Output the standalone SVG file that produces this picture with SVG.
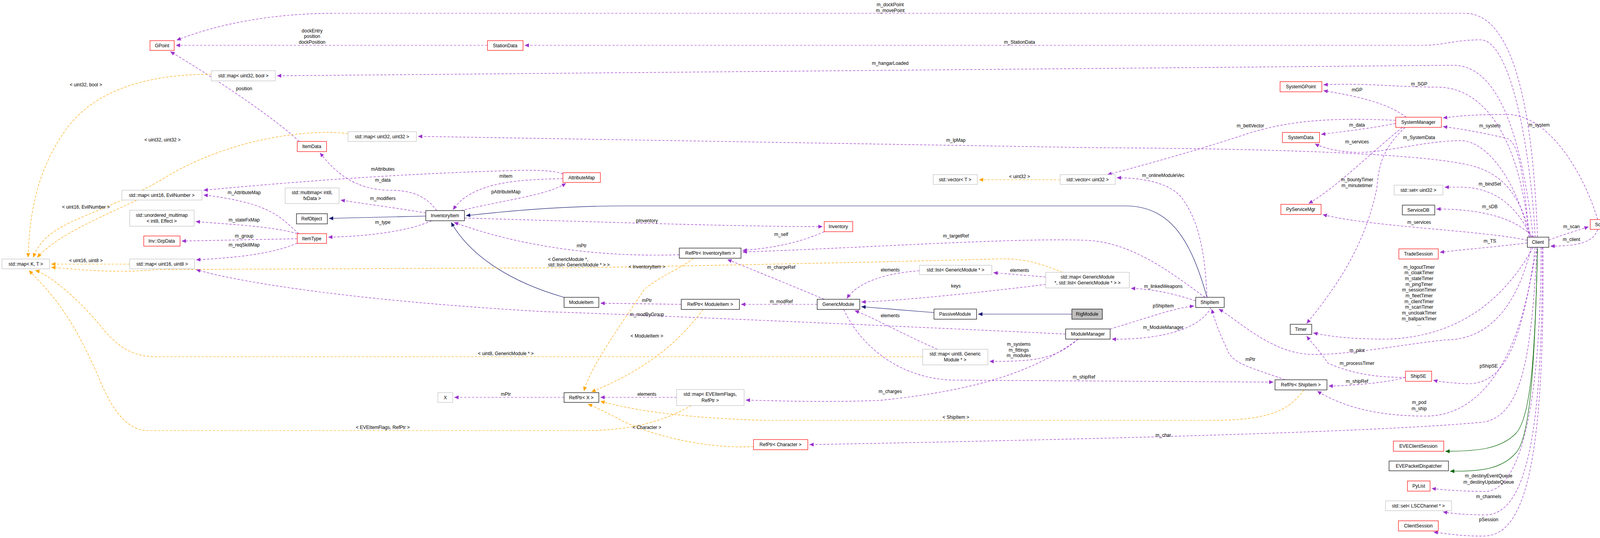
<svg xmlns="http://www.w3.org/2000/svg" width="4129" height="1377" viewBox="0 0 4129 1377">
<style>
text{font-family:"Liberation Sans Narrow","Liberation Sans",Arial,sans-serif;font-size:12px;text-anchor:middle;fill:#000}
.n rect{fill:#fff;stroke-width:1.2}
.r rect{stroke:#ff0000}
.k rect{stroke:#000}
.y rect{stroke:#bfbfbf}
.u{fill:none;stroke:#9a32cd;stroke-width:1.2;stroke-dasharray:6,4;marker-end:url(#mu)}
.t{fill:none;stroke:#ffa500;stroke-width:1.2;stroke-dasharray:6,4;marker-end:url(#mt)}
.i{fill:none;stroke:#191970;stroke-width:1.2;marker-end:url(#mi)}
.g{fill:none;stroke:#006400;stroke-width:1.2;marker-end:url(#mg)}
</style>
<defs>
<marker id="mu" markerUnits="userSpaceOnUse" markerWidth="12" markerHeight="10" refX="11" refY="5" orient="auto"><path d="M0,0 L11,5 L0,10 z" fill="#9a32cd"/></marker>
<marker id="mt" markerUnits="userSpaceOnUse" markerWidth="12" markerHeight="10" refX="11" refY="5" orient="auto"><path d="M0,0 L11,5 L0,10 z" fill="#ffa500"/></marker>
<marker id="mi" markerUnits="userSpaceOnUse" markerWidth="12" markerHeight="10" refX="11" refY="5" orient="auto"><path d="M0,0 L11,5 L0,10 z" fill="#191970"/></marker>
<marker id="mg" markerUnits="userSpaceOnUse" markerWidth="12" markerHeight="10" refX="11" refY="5" orient="auto"><path d="M0,0 L11,5 L0,10 z" fill="#006400"/></marker>
</defs>
<rect width="4129" height="1377" fill="#fff"/>
<g id="edges">
<path class="u" d="M3936,607 C3925,300 3880,34 3750,34 L860,34 C700,34 560,60 452,103"/>
<path class="u" d="M1248,116 L450,116"/>
<path class="u" d="M3930,607 C3920,400 3870,102 3790,102 C3720,102 3700,116 3640,116 L1343,116"/>
<path class="u" d="M766,362 C700,300 550,200 436,132"/>
<path class="u" d="M3925,607 C3890,300 3820,167 3720,167 L709,194"/>
<path class="u" d="M3920,607 C3890,500 3850,440 3750,420 C3600,390 3200,380 2800,378 L1070,349"/>
<path class="u" d="M1118,539 C1090,500 1050,487 1000,487 C900,487 850,430 819,391"/>
<path class="u" d="M1441,445 C1420,437 1380,434 1300,437 C1000,445 700,470 521,487"/>
<path class="u" d="M1441,457 C1350,460 1210,460 1160,537"/>
<path class="u" d="M1180,539 C1300,510 1400,500 1449,469"/>
<path class="u" d="M765,598 C720,560 700,520 521,499"/>
<path class="u" d="M1090,545 C1000,530 920,520 872,512"/>
<path class="u" d="M761,598 C700,580 600,575 501,567"/>
<path class="u" d="M1105,565 C1050,590 950,605 840,607"/>
<path class="u" d="M761,611 L465,617"/>
<path class="u" d="M761,622 C700,650 600,660 502,665"/>
<path class="i" d="M1090,553 L842,559"/>
<path class="u" d="M1189,558 C1600,570 1900,580 2106,580"/>
<path class="u" d="M2110,593 C2050,620 1980,635 1901,641"/>
<path class="u" d="M1739,652 C1500,660 1300,620 1162,569"/>
<path class="u" d="M3085,761 C3000,700 2900,620 2780,615 C2600,608 2200,635 1901,645"/>
<path class="u" d="M2110,766 C2000,720 1950,700 1862,664"/>
<path class="i" d="M3090,761 C3050,620 3000,527 2880,527 L1600,527 C1450,527 1300,540 1193,552"/>
<path class="i" d="M1444,761 C1300,720 1200,650 1155,569"/>
<path class="u" d="M1744,779 L1537,776"/>
<path class="u" d="M2092,779 L1897,779"/>
<path class="i" d="M2391,800 L2205,785"/>
<path class="i" d="M2744,804 L2504,804"/>
<path class="u" d="M2354,693 C2250,700 2190,730 2168,764"/>
<path class="u" d="M2677,709 L2543,698"/>
<path class="u" d="M2677,728 C2500,750 2300,770 2205,773"/>
<path class="u" d="M3061,770 C3000,750 2950,740 2895,738"/>
<path class="u" d="M2400,894 C2300,850 2230,810 2188,795"/>
<path class="u" d="M2760,868 C2700,920 2650,925 2533,925"/>
<path class="u" d="M2728,855 C2200,830 1500,800 1400,798 C900,770 600,720 502,690"/>
<path class="u" d="M2842,842 C2950,810 3000,790 3057,783"/>
<path class="u" d="M3100,787 C3080,830 3000,870 2846,868"/>
<path class="u" d="M2760,868 C2650,950 2500,1000 2250,1025 C2100,1030 2000,1026 1909,1024"/>
<path class="u" d="M2160,792 C2200,880 2300,973 2450,973 L3260,978"/>
<path class="u" d="M3290,972 C3200,940 3150,930 3140,890 C3120,850 3110,820 3102,791"/>
<path class="u" d="M3598,966 C3550,980 3450,988 3401,988"/>
<path class="u" d="M3598,966 C3500,966 3450,950 3400,930 C3380,900 3360,880 3345,860"/>
<path class="u" d="M3925,633 C3860,750 3750,862 3550,868 C3450,868 3400,860 3362,852"/>
<path class="u" d="M3920,633 C3880,800 3800,870 3700,870 C3600,880 3450,910 3350,907 C3250,900 3170,820 3120,791"/>
<path class="u" d="M3935,633 C3900,800 3880,990 3750,982 C3720,980 3690,978 3669,973"/>
<path class="u" d="M3930,633 C3900,900 3800,1065 3650,1065 C3500,1065 3420,1030 3372,1001"/>
<path class="u" d="M3935,633 C3920,900 3900,1060 3800,1080 C3500,1110 2500,1130 2072,1138"/>
<path class="g" d="M3936,637 C3930,900 3920,1070 3880,1110 C3840,1150 3780,1155 3700,1155"/>
<path class="g" d="M3936,637 C3930,900 3920,1120 3880,1160 C3840,1205 3780,1206 3712,1206"/>
<path class="u" d="M3945,633 C3945,1000 3900,1260 3800,1258 C3750,1257 3700,1255 3665,1250"/>
<path class="u" d="M3948,633 C3950,1100 3910,1320 3800,1318 C3750,1317 3720,1315 3694,1310"/>
<path class="u" d="M3950,633 C3955,1200 3900,1370 3800,1372 C3740,1373 3700,1365 3670,1362"/>
<path class="u" d="M3965,615 C4000,600 4040,590 4067,580"/>
<path class="u" d="M4090,587 C4080,620 4040,630 3969,630"/>
<path class="u" d="M4090,562 C4050,430 3960,295 3860,293 C3780,293 3740,296 3694,302"/>
<path class="u" d="M3915,607 C3900,450 3890,370 3860,355 C3800,340 3740,330 3694,324"/>
<path class="u" d="M3915,607 C3890,350 3800,224 3680,223 C3550,222 3500,212 3388,217"/>
<path class="u" d="M3600,300 C3560,270 3500,250 3388,232"/>
<path class="u" d="M3573,316 C3500,330 3450,335 3382,344"/>
<path class="u" d="M3573,308 C3400,300 3300,310 3200,340 C3050,390 2900,430 2835,447"/>
<path class="u" d="M3590,326 C3500,400 3420,480 3350,521"/>
<path class="u" d="M3597,326 C3540,380 3530,420 3525,480 C3500,600 3450,700 3345,828"/>
<path class="u" d="M3915,607 C3880,450 3800,360 3740,360 C3650,360 3550,390 3480,390 C3420,390 3380,375 3366,368"/>
<path class="u" d="M3090,761 C3085,650 3070,560 3020,500 C2980,460 2900,455 2859,455"/>
<path class="u" d="M3920,607 C3880,520 3820,480 3740,479 L3698,479"/>
<path class="u" d="M3925,607 C3880,560 3800,535 3677,535"/>
<path class="u" d="M3910,615 C3800,590 3500,580 3386,549"/>
<path class="u" d="M3910,622 C3800,635 3730,640 3686,646"/>
<path class="u" d="M1444,1017 L1163,1017"/>
<path class="u" d="M1732,1017 L1537,1017"/>
<path class="t" d="M541,190 C400,190 250,220 170,330 C90,440 75,560 72,659"/>
<path class="t" d="M891,342 C800,330 600,350 430,450 C250,560 120,560 85,659"/>
<path class="t" d="M350,512 C250,560 150,600 95,659"/>
<path class="t" d="M332,676 L131,676"/>
<path class="t" d="M2720,697 C2650,670 2620,660 2540,663 C2300,670 1800,680 1500,685 L400,690 C300,700 200,690 131,684"/>
<path class="t" d="M2362,913 L400,913 C330,913 300,880 270,850 C200,760 120,700 90,692"/>
<path class="t" d="M1770,1038 C1730,1060 1650,1102 1500,1102 L380,1102 C330,1102 290,1060 250,960 C180,800 130,750 74,692"/>
<path class="t" d="M2714,460 L2506,460"/>
<path class="t" d="M1775,661 C1740,690 1700,700 1650,740 C1590,830 1510,940 1495,1001"/>
<path class="t" d="M1800,792 C1720,900 1620,960 1514,1003"/>
<path class="t" d="M3338,998 C3300,1050 3250,1076 3100,1076 L1960,1076 C1750,1070 1620,1050 1537,1027"/>
<path class="t" d="M1929,1143 C1800,1150 1650,1110 1580,1070 C1540,1050 1520,1040 1505,1034"/>
<text x="2279" y="16">m_dockPoint</text><text x="2279" y="31">m_movePoint</text>
<text x="799" y="83">dockEntry</text><text x="799" y="97">position</text><text x="799" y="112">dockPosition</text>
<text x="2610" y="112">m_StationData</text>
<text x="2279" y="166">m_hangarLoaded</text>
<text x="625" y="231">position</text>
<text x="220" y="221">&lt; uint32, bool &gt;</text>
<text x="416" y="362">&lt; uint32, uint32 &gt;</text>
<text x="2447" y="363">m_lpMap</text>
<text x="980" y="437">mAttributes</text>
<text x="980" y="465">m_data</text>
<text x="1295" y="455">mItem</text>
<text x="1295" y="495">pAttributeMap</text>
<text x="625" y="497">m_AttributeMap</text>
<text x="980" y="512">m_modifiers</text>
<text x="220" y="534">&lt; uint16, EvilNumber &gt;</text>
<text x="625" y="567">m_stateFxMap</text>
<text x="980" y="573">m_type</text>
<text x="625" y="608">m_group</text>
<text x="625" y="631">m_reqSkillMap</text>
<text x="220" y="671">&lt; uint16, uint8 &gt;</text>
<text x="2610" y="456">&lt; uint32 &gt;</text>
<text x="1656" y="569">pInventory</text>
<text x="2000" y="604">m_self</text>
<text x="2447" y="608">m_targetRef</text>
<text x="1489" y="633">mPtr</text>
<text x="1403" y="668" style="text-anchor:start">&lt; GenericModule *,</text>
<text x="1403" y="682" style="text-anchor:start">std::list&lt; GenericModule * &gt; &gt;</text>
<text x="1656" y="687">&lt; InventoryItem &gt;</text>
<text x="2000" y="688">m_chargeRef</text>
<text x="2279" y="695">elements</text>
<text x="2610" y="696">elements</text>
<text x="2447" y="736">keys</text>
<text x="1656" y="773">mPtr</text>
<text x="2000" y="776">m_modRef</text>
<text x="1656" y="809">m_modByGroup</text>
<text x="2279" y="812">elements</text>
<text x="1656" y="864">&lt; ModuleItem &gt;</text>
<text x="2608" y="885">m_systems</text><text x="2608" y="900">m_fittings</text><text x="2608" y="914">m_modules</text>
<text x="1295" y="909">&lt; uint8, GenericModule * &gt;</text>
<text x="2775" y="969">m_shipRef</text>
<text x="2279" y="1006">m_charges</text>
<text x="1656" y="1013">elements</text>
<text x="1295" y="1013">mPtr</text>
<text x="2447" y="1072">&lt; ShipItem &gt;</text>
<text x="980" y="1098">&lt; EVEItemFlags, RefPtr &gt;</text>
<text x="1656" y="1098">&lt; Character &gt;</text>
<text x="2978" y="1118">m_char</text>
<text x="3633" y="219">m_SGP</text>
<text x="3474" y="234">mGP</text>
<text x="3201" y="326">m_beltVector</text>
<text x="3474" y="324">m_data</text>
<text x="3814" y="326">m_system</text>
<text x="3940" y="324">m_system</text>
<text x="3474" y="367">m_services</text>
<text x="3633" y="356">m_SystemData</text>
<text x="2978" y="453">m_onlineModuleVec</text>
<text x="3474" y="464">m_bountyTimer</text><text x="3474" y="479">m_minutetimer</text>
<text x="3814" y="475">m_bindSet</text>
<text x="3814" y="533">m_sDB</text>
<text x="3633" y="573">m_services</text>
<text x="4023" y="584">m_scan</text>
<text x="4023" y="617">m_client</text>
<text x="3814" y="621">m_TS</text>
<text x="3633" y="688">m_logoutTimer</text><text x="3633" y="702">m_cloakTimer</text><text x="3633" y="717">m_stateTimer</text><text x="3633" y="732">m_pingTimer</text><text x="3633" y="746">m_sessionTimer</text><text x="3633" y="761">m_fleetTimer</text><text x="3633" y="776">m_clientTimer</text><text x="3633" y="790">m_scanTimer</text><text x="3633" y="805">m_uncloakTimer</text><text x="3633" y="820">m_ballparkTimer</text><text x="3633" y="834">...</text>
<text x="2978" y="737">m_linkedWeapons</text>
<text x="2978" y="787">pShipItem</text>
<text x="2978" y="842">m_ModuleManager</text>
<text x="3474" y="901">m_pilot</text>
<text x="3201" y="924">mPtr</text>
<text x="3474" y="934">m_processTimer</text>
<text x="3811" y="941">pShipSE</text>
<text x="3474" y="980">m_shipRef</text>
<text x="3633" y="1034">m_pod</text><text x="3633" y="1050">m_ship</text>
<text x="3811" y="1222">m_destinyEventQueue</text><text x="3811" y="1238">m_destinyUpdateQueue</text>
<text x="3811" y="1275">m_channels</text>
<text x="3811" y="1334">pSession</text>
</g>
<g id="GPoint" class="n r"><rect x="384" y="104" width="62" height="25"/><text x="415" y="121">GPoint</text></g>
<g id="StationData" class="n r"><rect x="1248" y="104" width="91" height="25"/><text x="1293" y="121">StationData</text></g>
<g id="MapU32Bool" class="n y"><rect x="541" y="181" width="164" height="26"/><text x="623" y="198">std::map&lt; uint32, bool &gt;</text></g>
<g id="MapU32U32" class="n y"><rect x="891" y="337" width="175" height="25"/><text x="978" y="354">std::map&lt; uint32, uint32 &gt;</text></g>
<g id="ItemData" class="n r"><rect x="761" y="362" width="75" height="26"/><text x="798" y="379">ItemData</text></g>
<g id="AttributeMap" class="n r"><rect x="1441" y="442" width="96" height="25"/><text x="1489" y="459">AttributeMap</text></g>
<g id="MapU16Evil" class="n y"><rect x="312" y="487" width="205" height="25"/><text x="414" y="504">std::map&lt; uint16, EvilNumber &gt;</text></g>
<g id="MultimapFx" class="n y"><rect x="730" y="481" width="138" height="40"/><text x="799" y="497">std::multimap&lt; int8,</text><text x="799" y="512">fxData &gt;</text></g>
<g id="UnorderedMultimap" class="n y"><rect x="332" y="538" width="165" height="41"/><text x="414" y="555">std::unordered_multimap</text><text x="414" y="570">&lt; int8, Effect &gt;</text></g>
<g id="RefObject" class="n k"><rect x="759" y="547" width="79" height="26"/><text x="798" y="564">RefObject</text></g>
<g id="InventoryItem" class="n k"><rect x="1090" y="539" width="99" height="26"/><text x="1139" y="556">InventoryItem</text></g>
<g id="InvGrpData" class="n r"><rect x="368" y="604" width="93" height="26"/><text x="414" y="621">Inv::GrpData</text></g>
<g id="ItemType" class="n r"><rect x="761" y="598" width="75" height="25"/><text x="798" y="615">ItemType</text></g>
<g id="MapKT" class="n y"><rect x="5" y="663" width="122" height="25"/><text x="66" y="680">std::map&lt; K, T &gt;</text></g>
<g id="MapU16U8" class="n y"><rect x="332" y="663" width="166" height="25"/><text x="415" y="680">std::map&lt; uint16, uint8 &gt;</text></g>
<g id="VectorT" class="n y"><rect x="2389" y="447" width="113" height="25"/><text x="2445" y="464">std::vector&lt; T &gt;</text></g>
<g id="VectorU32" class="n y"><rect x="2714" y="447" width="141" height="25"/><text x="2784" y="464">std::vector&lt; uint32 &gt;</text></g>
<g id="Inventory" class="n r"><rect x="2110" y="567" width="73" height="26"/><text x="2146" y="584">Inventory</text></g>
<g id="RefPtrInventoryItem" class="n k"><rect x="1739" y="635" width="158" height="26"/><text x="1818" y="652">RefPtr&lt; InventoryItem &gt;</text></g>
<g id="ListGM" class="n y"><rect x="2354" y="679" width="185" height="24"/><text x="2446" y="695">std::list&lt; GenericModule * &gt;</text></g>
<g id="MapGMList" class="n y"><rect x="2677" y="697" width="214" height="40"/><text x="2784" y="713">std::map&lt; GenericModule</text><text x="2784" y="728">*, std::list&lt; GenericModule * &gt; &gt;</text></g>
<g id="ModuleItem" class="n k"><rect x="1444" y="761" width="89" height="26"/><text x="1488" y="778">ModuleItem</text></g>
<g id="RefPtrModuleItem" class="n k"><rect x="1744" y="766" width="149" height="26"/><text x="1818" y="783">RefPtr&lt; ModuleItem &gt;</text></g>
<g id="GenericModule" class="n k"><rect x="2092" y="766" width="109" height="26"/><text x="2146" y="783">GenericModule</text></g>
<g id="PassiveModule" class="n k"><rect x="2391" y="791" width="109" height="26"/><text x="2445" y="808">PassiveModule</text></g>
<g id="RigModule" class="n k"><rect x="2744" y="791" width="78" height="26" style="fill:#bfbfbf"/><text x="2783" y="808">RigModule</text></g>
<g id="ShipItem" class="n k"><rect x="3061" y="761" width="73" height="26"/><text x="3097" y="778">ShipItem</text></g>
<g id="ModuleManager" class="n k"><rect x="2728" y="842" width="114" height="26"/><text x="2785" y="859">ModuleManager</text></g>
<g id="MapU8GM" class="n y"><rect x="2362" y="894" width="167" height="40"/><text x="2445" y="910">std::map&lt; uint8, Generic</text><text x="2445" y="925">Module * &gt;</text></g>
<g id="X" class="n y"><rect x="1121" y="1005" width="38" height="25"/><text x="1140" y="1022">X</text></g>
<g id="RefPtrX" class="n k"><rect x="1444" y="1005" width="89" height="25"/><text x="1488" y="1022">RefPtr&lt; X &gt;</text></g>
<g id="MapEVEItemFlags" class="n y"><rect x="1732" y="997" width="173" height="41"/><text x="1818" y="1013">std::map&lt; EVEItemFlags,</text><text x="1818" y="1029">RefPtr &gt;</text></g>
<g id="RefPtrCharacter" class="n r"><rect x="1929" y="1125" width="139" height="26"/><text x="1998" y="1142">RefPtr&lt; Character &gt;</text></g>
<g id="SystemGPoint" class="n r"><rect x="3277" y="209" width="107" height="26"/><text x="3330" y="226">SystemGPoint</text></g>
<g id="SystemManager" class="n r"><rect x="3573" y="300" width="117" height="26"/><text x="3631" y="317">SystemManager</text></g>
<g id="SystemData" class="n r"><rect x="3283" y="339" width="95" height="26"/><text x="3330" y="356">SystemData</text></g>
<g id="SetU32" class="n y"><rect x="3569" y="474" width="125" height="25"/><text x="3631" y="491">std::set&lt; uint32 &gt;</text></g>
<g id="ServiceDB" class="n k"><rect x="3590" y="525" width="83" height="25"/><text x="3631" y="542">ServiceDB</text></g>
<g id="PyServiceMgr" class="n r"><rect x="3279" y="523" width="103" height="26"/><text x="3330" y="540">PyServiceMgr</text></g>
<g id="Scan" class="n r"><rect x="4071" y="562" width="53" height="25"/><text x="4097" y="579">Scan</text></g>
<g id="Client" class="n k"><rect x="3910" y="607" width="55" height="26"/><text x="3937" y="624">Client</text></g>
<g id="TradeSession" class="n r"><rect x="3581" y="637" width="101" height="26"/><text x="3631" y="654">TradeSession</text></g>
<g id="Timer" class="n k"><rect x="3303" y="830" width="55" height="26"/><text x="3330" y="847">Timer</text></g>
<g id="ShipSE" class="n r"><rect x="3598" y="950" width="67" height="26"/><text x="3631" y="967">ShipSE</text></g>
<g id="RefPtrShipItem" class="n k"><rect x="3264" y="972" width="133" height="26"/><text x="3330" y="989">RefPtr&lt; ShipItem &gt;</text></g>
<g id="EVEClientSession" class="n r"><rect x="3567" y="1129" width="129" height="26"/><text x="3631" y="1146">EVEClientSession</text></g>
<g id="EVEPacketDispatcher" class="n k"><rect x="3556" y="1180" width="152" height="25"/><text x="3632" y="1197">EVEPacketDispatcher</text></g>
<g id="PyList" class="n r"><rect x="3603" y="1231" width="58" height="26"/><text x="3632" y="1248">PyList</text></g>
<g id="SetLSCChannel" class="n y"><rect x="3547" y="1282" width="169" height="25"/><text x="3631" y="1299">std::set&lt; LSCChannel * &gt;</text></g>
<g id="ClientSession" class="n r"><rect x="3580" y="1333" width="102" height="26"/><text x="3631" y="1350">ClientSession</text></g>
</svg>
